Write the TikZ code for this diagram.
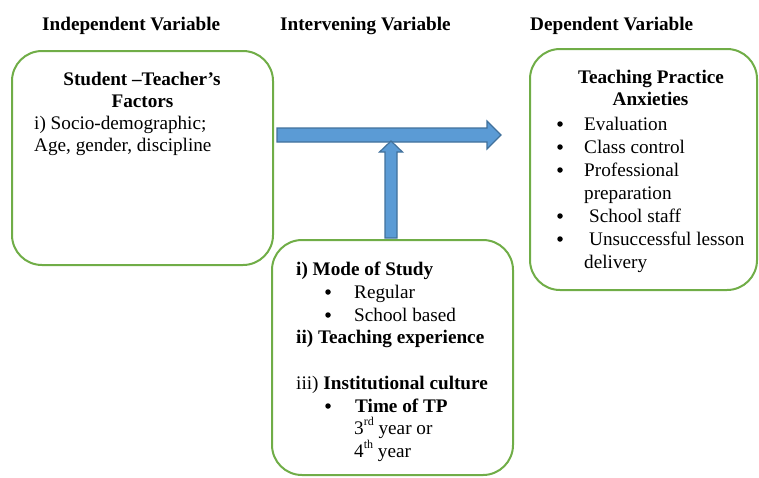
\documentclass[tikz,border=0pt]{standalone}
\usepackage{fontspec}
\setmainfont{Liberation Serif}

\definecolor{boxgreen}{HTML}{70AD47}
\definecolor{arrowblue}{HTML}{5B9BD5}
\definecolor{arrowedge}{HTML}{41719C}

\newcommand{\sups}[1]{\raisebox{0.42em}{\fontsize{12}{12}\selectfont #1}}

\begin{document}
\begin{tikzpicture}[x=1pt,y=-1pt,font=\fontsize{19.2}{23}\selectfont,
  box/.style={draw=boxgreen,line width=2pt,rounded corners=30pt},
  fat/.style={fill=arrowblue,draw=arrowedge,line width=1.2pt,line join=miter},
  txt/.style={inner sep=0pt,anchor=base west},
  ctr/.style={inner sep=0pt,anchor=base},
  bold/.style={font=\fontsize{19.2}{23}\selectfont\bfseries},
  bul/.style={circle,fill=black,inner sep=0pt,minimum size=5.5pt}]
\useasboundingbox (0,0) rectangle (759,477);

% headings
\node[txt,bold] (hindep) at (42,30) {Independent Variable};
\node[txt,bold] (hinter) at (280,30) {Intervening Variable};
\node[txt,bold] (hdep) at (530,30) {Dependent Variable};

% block arrows
\coordinate (hs) at (277,135);
\draw[fat] (hs) ++(0,-7) -- ++(210,0) -- ++(0,-7) -- ++(14,14) -- ++(-14,14) -- ++(0,-7) -- ++(-210,0) -- cycle;

% the three boxes
\node[box,minimum width=261pt,minimum height=214pt] (indep) at (142.5,158) {};
\node[box,minimum width=227pt,minimum height=241pt] (dep) at (643.5,169.5) {};
\node[box,minimum width=241pt,minimum height=235pt] (inter) at (392.5,357.5) {};

\draw[fat] (inter.north) ++(-7.5,-1) -- ++(0,-86) -- ++(-5.5,0) -- ++(11.5,-11) -- ++(11.5,11) -- ++(-5.5,0) -- ++(0,86) -- cycle;

% independent variable
\node[ctr,bold] (ind1) at (142,85) {Student –Teacher’s};
\node[ctr,bold] (ind2) at (142.5,107) {Factors};
\node[txt] (ind3) at (34,129) {i) Socio-demographic;};
\node[txt] (ind4) at (34,151) {Age, gender, discipline};

% dependent variable
\node[ctr,bold] (dep1) at (651,83) {Teaching Practice};
\node[ctr,bold] (dep2) at (650.5,105) {Anxieties};
\node[bul] (b1) at (560,124) {};
\node[txt] (dep3) at (584,130) {Evaluation};
\node[bul] (b2) at (560,147) {};
\node[txt] (dep4) at (584,153) {Class control};
\node[bul] (b3) at (560,170) {};
\node[txt] (dep5) at (584,176) {Professional};
\node[txt] (dep6) at (584,199) {preparation};
\node[bul] (b4) at (560,216) {};
\node[txt] (dep7) at (589,222) {School staff};
\node[bul] (b5) at (560,239) {};
\node[txt] (dep8) at (589,245) {Unsuccessful lesson};
\node[txt] (dep9) at (584,268) {delivery};

% intervening variable
\node[txt,bold] (int1) at (296,275) {i) Mode of Study};
\node[bul] (b6) at (328,292) {};
\node[txt] (int2) at (354,298) {Regular};
\node[bul] (b7) at (328,315) {};
\node[txt] (int3) at (354,321) {School based};
\node[txt,bold] (int4) at (296,343) {ii) Teaching experience};
\node[txt] (int5) at (296,389) {iii) \textbf{Institutional culture}};
\node[bul] (b8) at (328,406) {};
\node[txt,bold] (int6) at (355,412) {Time of TP};
\node[txt] (int7) at (354,434) {3\sups{rd} year or};
\node[txt] (int8) at (354,457) {4\sups{th} year};

\end{tikzpicture}
\end{document}
